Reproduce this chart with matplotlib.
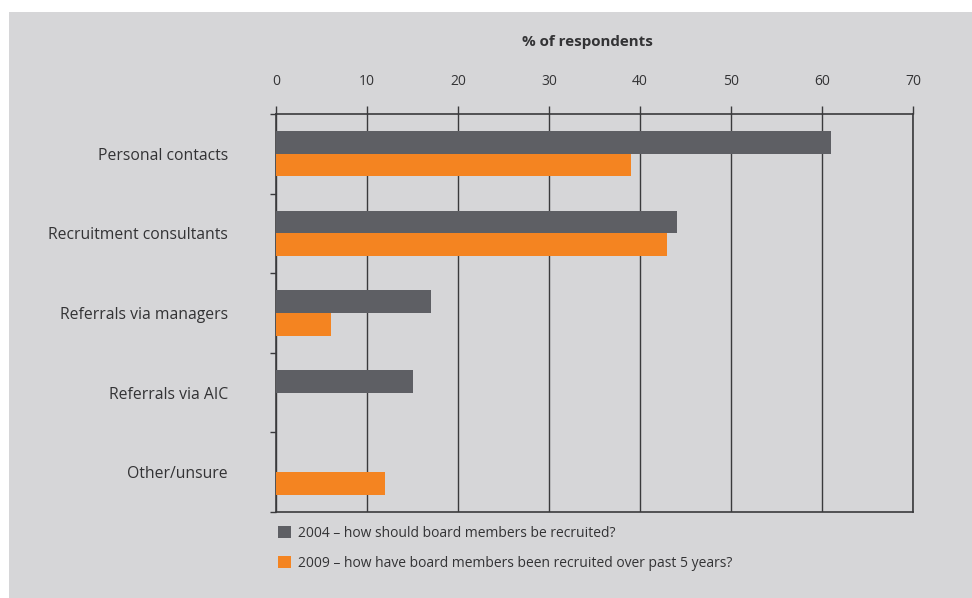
import matplotlib
matplotlib.use("Agg")
import matplotlib.pyplot as plt
from matplotlib.patches import Rectangle
import numpy as np

categories = ["Personal contacts", "Recruitment consultants", "Referrals via managers",
              "Referrals via AIC", "Other/unsure"]
values_2004 = [61, 44, 17, 15, 0]
values_2009 = [39, 43, 6, 0, 12]
series_labels = ["2004 \u2013 how should board members be recruited?",
                 "2009 \u2013 how have board members been recruited over past 5 years?"]
xticks = [0, 10, 20, 30, 40, 50, 60, 70]

GRAY = "#5e5f64"
ORANGE = "#f48421"
BG = "#d6d6d8"
LINE = "#3a3a3c"
TEXT = "#333335"

plt.rcParams["font.family"] = ["Open Sans", "DejaVu Sans"]

W, H = 972, 598
fig = plt.figure(figsize=(W / 100, H / 100), dpi=100, facecolor="white")
fig.patches.append(Rectangle((9 / W, 0), 1, 1 - 12 / H, transform=fig.transFigure,
                             facecolor=BG, edgecolor="none", zorder=-10))

left, right, top, bottom = 276 / W, 913.3 / W, 1 - 114 / H, 1 - 512 / H
ax = fig.add_axes([left, bottom, right - left, top - bottom])
ax.set_zorder(1)
ax.set_facecolor(BG)

y = np.arange(len(categories))
h = 0.284
ax.barh(y - h / 2, values_2004, height=h, color=GRAY, label=series_labels[0], zorder=3)
ax.barh(y + h / 2, values_2009, height=h, color=ORANGE, label=series_labels[1], zorder=3)

ax.set_xlim(0, 70)
ax.set_ylim(len(categories) - 0.5, -0.5)
ax.set_xticks(xticks)
ax.xaxis.tick_top()
ax.xaxis.set_label_position("top")
ax.tick_params(axis="x", direction="out", length=6, width=1, color=LINE,
               labelsize=10, labelcolor=TEXT, pad=11.8)
ax.grid(axis="x", color=LINE, linewidth=1, zorder=1)
ax.set_axisbelow(True)

ax.set_yticks(y)
ax.set_yticklabels(categories)
ax.set_yticks(np.arange(len(categories) + 1) - 0.5, minor=True)
ax.tick_params(axis="y", which="major", length=0, labelsize=11.3, labelcolor=TEXT, pad=34.5)
ax.tick_params(axis="y", which="minor", direction="out", length=4.5, width=1, color=LINE)

for s in ax.spines.values():
    s.set_color(LINE)
    s.set_linewidth(1.2)

fig.text(587 / W, 1 - 42 / H, "% of respondents", ha="center", va="center",
         fontsize=10.9, fontweight="bold", color=TEXT)

handles = [Rectangle((0, 0), 1, 1, facecolor=c, edgecolor="none") for c in (GRAY, ORANGE)]
fig.legend(handles, series_labels, loc="upper left",
           bbox_to_anchor=(274 / W, 1 - 522 / H), frameon=False, fontsize=10,
           labelcolor=TEXT, handlelength=0.95, handleheight=0.95, handletextpad=0.45,
           labelspacing=1.05, borderaxespad=0, borderpad=0.3)

fig.savefig("out.png", dpi=100, facecolor="white")
